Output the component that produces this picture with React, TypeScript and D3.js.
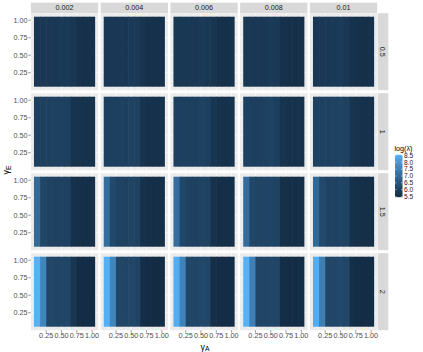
import React from "react";
import * as d3 from "d3";

// facet labels
const gammaELabels = ["0.5", "1", "1.5", "2"];
const muLabels = ["0.002", "0.004", "0.006", "0.008", "0.01"];

// tile centres in each panel
const gammaA = [0.1, 0.2, 0.3, 0.4, 0.5, 0.6, 0.7, 0.8, 0.9, 1.0];
const gammaE = [0.1, 0.2, 0.3, 0.4, 0.5, 0.6, 0.7, 0.8, 0.9, 1.0];

const axisTicks = [0.25, 0.5, 0.75, 1.0];
const legendBreaks = [5.5, 6.0, 6.5, 7.0, 7.5, 8.0, 8.5];

// log(lambda) by gammaA, one row per panel (stripes are constant in gammaE)
const row05 = [
  [5.8, 5.8, 5.79, 5.8, 5.84, 5.83, 5.76, 5.6, 5.58, 5.6],
  [5.8, 5.8, 5.8, 5.8, 5.83, 5.82, 5.65, 5.6, 5.6, 5.62],
  [5.78, 5.78, 5.78, 5.8, 5.85, 5.8, 5.7, 5.6, 5.58, 5.6],
  [5.78, 5.78, 5.8, 5.8, 5.86, 5.82, 5.62, 5.58, 5.56, 5.58],
  [5.8, 5.8, 5.8, 5.82, 5.86, 5.8, 5.64, 5.6, 5.58, 5.6],
];
const row1 = [
  [6.0, 5.98, 5.98, 6.02, 6.02, 5.98, 5.68, 5.65, 5.64, 5.66],
  [6.0, 6.0, 5.98, 6.0, 6.05, 6.02, 5.66, 5.62, 5.62, 5.64],
  [6.0, 6.0, 5.98, 6.0, 6.04, 6.0, 5.72, 5.64, 5.62, 5.64],
  [6.02, 6.0, 6.0, 6.02, 6.06, 6.0, 5.66, 5.62, 5.6, 5.62],
  [6.05, 6.02, 6.02, 6.05, 6.08, 6.02, 5.7, 5.64, 5.62, 5.64],
];
const row15 = [
  [7.0, 6.15, 6.05, 6.02, 6.05, 6.02, 5.6, 5.58, 5.56, 5.58],
  [7.05, 6.2, 6.05, 6.02, 6.08, 6.05, 5.6, 5.56, 5.55, 5.57],
  [7.1, 6.18, 6.05, 6.02, 6.06, 6.04, 5.62, 5.56, 5.55, 5.56],
  [7.05, 6.15, 6.08, 6.08, 6.1, 6.06, 5.58, 5.55, 5.54, 5.56],
  [6.95, 6.2, 6.05, 6.05, 6.1, 6.06, 5.6, 5.56, 5.55, 5.56],
];
const row2 = [
  [8.55, 7.6, 6.15, 6.12, 6.15, 6.12, 5.75, 5.5, 5.48, 5.5],
  [8.5, 7.6, 6.15, 6.12, 6.15, 6.1, 5.52, 5.48, 5.47, 5.5],
  [8.45, 7.55, 6.15, 6.12, 6.18, 6.15, 5.55, 5.5, 5.48, 5.5],
  [8.55, 7.5, 6.12, 6.12, 6.15, 6.12, 5.52, 5.48, 5.47, 5.5],
  [8.45, 7.45, 6.15, 6.15, 6.2, 6.15, 5.55, 5.5, 5.48, 5.5],
];
const logLambda = [row05, row1, row15, row2];

const font = "'Liberation Sans', Arial, sans-serif";

export default function App() {
  const x0 = 30.9;
  const colStep = 69.75;
  const panelW = 67.3;
  const y0 = 13.2;
  const rowStep = 80;
  const panelH = 77;

  const x = d3.scaleLinear().domain([0, 1.1]).range([0, panelW]);
  const y = d3.scaleLinear().domain([0, 1.1]).range([panelH, 0]);

  const all = logLambda.flat(2);
  const lo = Math.min(5.45, d3.min(all) as number);
  const hi = Math.max(8.55, d3.max(all) as number);
  const color = d3.scaleLinear<string>().domain([lo, hi])
    .range(["#132B43", "#56B1F7"]).interpolate(d3.interpolateLab);

  // legend
  const legX = 395, legW = 7.5;
  const legY = d3.scaleLinear().domain([5.5, 8.5]).range([196.5, 155.5]);
  const stops = d3.range(0, 1.0001, 0.1).map((t) => lo + t * (hi - lo));

  const gridMinor = [0.125, 0.375, 0.625, 0.875];
  const eLo = gammaE[0] - 0.05;
  const eHi = gammaE[gammaE.length - 1] + 0.05;

  return (
    <div style={{ position: "fixed", left: 0, top: 0 }}>
      <svg width={423} height={352} style={{ display: "block", fontFamily: font }}>
        <defs>
          <linearGradient id="lg" x1="0" y1="1" x2="0" y2="0">
            {stops.map((v, i) => (
              <stop key={i} offset={i / (stops.length - 1)} stopColor={color(v)} />
            ))}
          </linearGradient>
        </defs>
        <rect width={423} height={352} fill="#fff" />

        {logLambda.map((rowPanels, r) => (
          <g key={r}>
            {rowPanels.map((vals, c) => {
              const px = x0 + c * colStep;
              const py = y0 + r * rowStep;
              return (
                <g key={c} transform={`translate(${px},${py})`}>
                  <rect width={panelW} height={panelH} fill="#EBEBEB" />
                  {gridMinor.map((g) => (
                    <g key={"m" + g}>
                      <line x1={x(g)} x2={x(g)} y1={0} y2={panelH} stroke="#fff" strokeWidth={0.3} />
                      <line y1={y(g)} y2={y(g)} x1={0} x2={panelW} stroke="#fff" strokeWidth={0.3} />
                    </g>
                  ))}
                  {axisTicks.map((g) => (
                    <g key={"M" + g}>
                      <line x1={x(g)} x2={x(g)} y1={0} y2={panelH} stroke="#fff" strokeWidth={0.6} />
                      <line y1={y(g)} y2={y(g)} x1={0} x2={panelW} stroke="#fff" strokeWidth={0.6} />
                    </g>
                  ))}
                  {/* tiles: each gammaA column is constant over gammaE */}
                  {vals.map((v, i) => (
                    <rect
                      key={i}
                      x={x(gammaA[i] - 0.05)}
                      y={y(eHi)}
                      width={x(gammaA[i] + 0.05) - x(gammaA[i] - 0.05) + (i < vals.length - 1 ? 0.6 : 0)}
                      height={y(eLo) - y(eHi)}
                      fill={color(v)}
                    />
                  ))}
                  {c === 0 &&
                    axisTicks.map((t) => (
                      <g key={"yt" + t}>
                        <line x1={-2.5} x2={0} y1={y(t)} y2={y(t)} stroke="#333" strokeWidth={0.5} />
                        <text x={-3.3} y={y(t)} dy="0.35em" textAnchor="end" fontSize={7.2} fill="#4D4D4D">
                          {d3.format(".2f")(t)}
                        </text>
                      </g>
                    ))}
                  {r === 3 &&
                    axisTicks.map((t) => (
                      <g key={"xt" + t}>
                        <line x1={x(t)} x2={x(t)} y1={panelH} y2={panelH + 2.5} stroke="#333" strokeWidth={0.5} />
                        <text x={x(t)} y={panelH + 2.8} dy="0.75em" textAnchor="middle" fontSize={7.3} fill="#4D4D4D">
                          {d3.format(".2f")(t)}
                        </text>
                      </g>
                    ))}
                  {r === 0 && (
                    <g>
                      <rect x={0} y={-10.6} width={panelW} height={10.4} fill="#D9D9D9" />
                      <text x={panelW / 2} y={-5.4} dy="0.35em" textAnchor="middle" fontSize={7.2} fill="#1A1A1A">
                        {muLabels[c]}
                      </text>
                    </g>
                  )}
                  {c === 4 && (
                    <g>
                      <rect x={panelW + 0.5} y={0} width={10.6} height={panelH} fill="#D9D9D9" />
                      <text
                        transform={`translate(${panelW + 5.8},${panelH / 2}) rotate(90)`}
                        dy="0.35em"
                        textAnchor="middle"
                        fontSize={7.2}
                        fill="#1A1A1A"
                      >
                        {gammaELabels[r]}
                      </text>
                    </g>
                  )}
                </g>
              );
            })}
          </g>
        ))}

        {/* axis titles */}
        <text x={205} y={349.5} textAnchor="middle" fontSize={8.8} fill="#000">
          γ<tspan fontSize={6.8} dy={1.2}>A</tspan>
        </text>
        <text transform={`translate(9,170) rotate(-90)`} textAnchor="middle" fontSize={9} fill="#000">
          γ<tspan fontSize={7} dy={1.5}>E</tspan>
        </text>

        {/* legend */}
        <text x={legX - 0.5} y={151} fontSize={7.2} fill="#000">log(λ̄)</text>
        <rect x={legX} y={legY(hi)} width={legW} height={legY(lo) - legY(hi)} fill="url(#lg)" />
        {legendBreaks.map((b) => (
          <g key={b}>
            <line x1={legX} x2={legX + 1.5} y1={legY(b)} y2={legY(b)} stroke="#fff" strokeWidth={0.5} />
            <line x1={legX + legW - 1.5} x2={legX + legW} y1={legY(b)} y2={legY(b)} stroke="#fff" strokeWidth={0.5} />
            <text x={legX + legW + 1.5} y={legY(b)} dy="0.35em" fontSize={6.6} fill="#1A1A1A">
              {d3.format(".1f")(b)}
            </text>
          </g>
        ))}
      </svg>
    </div>
  );
}
